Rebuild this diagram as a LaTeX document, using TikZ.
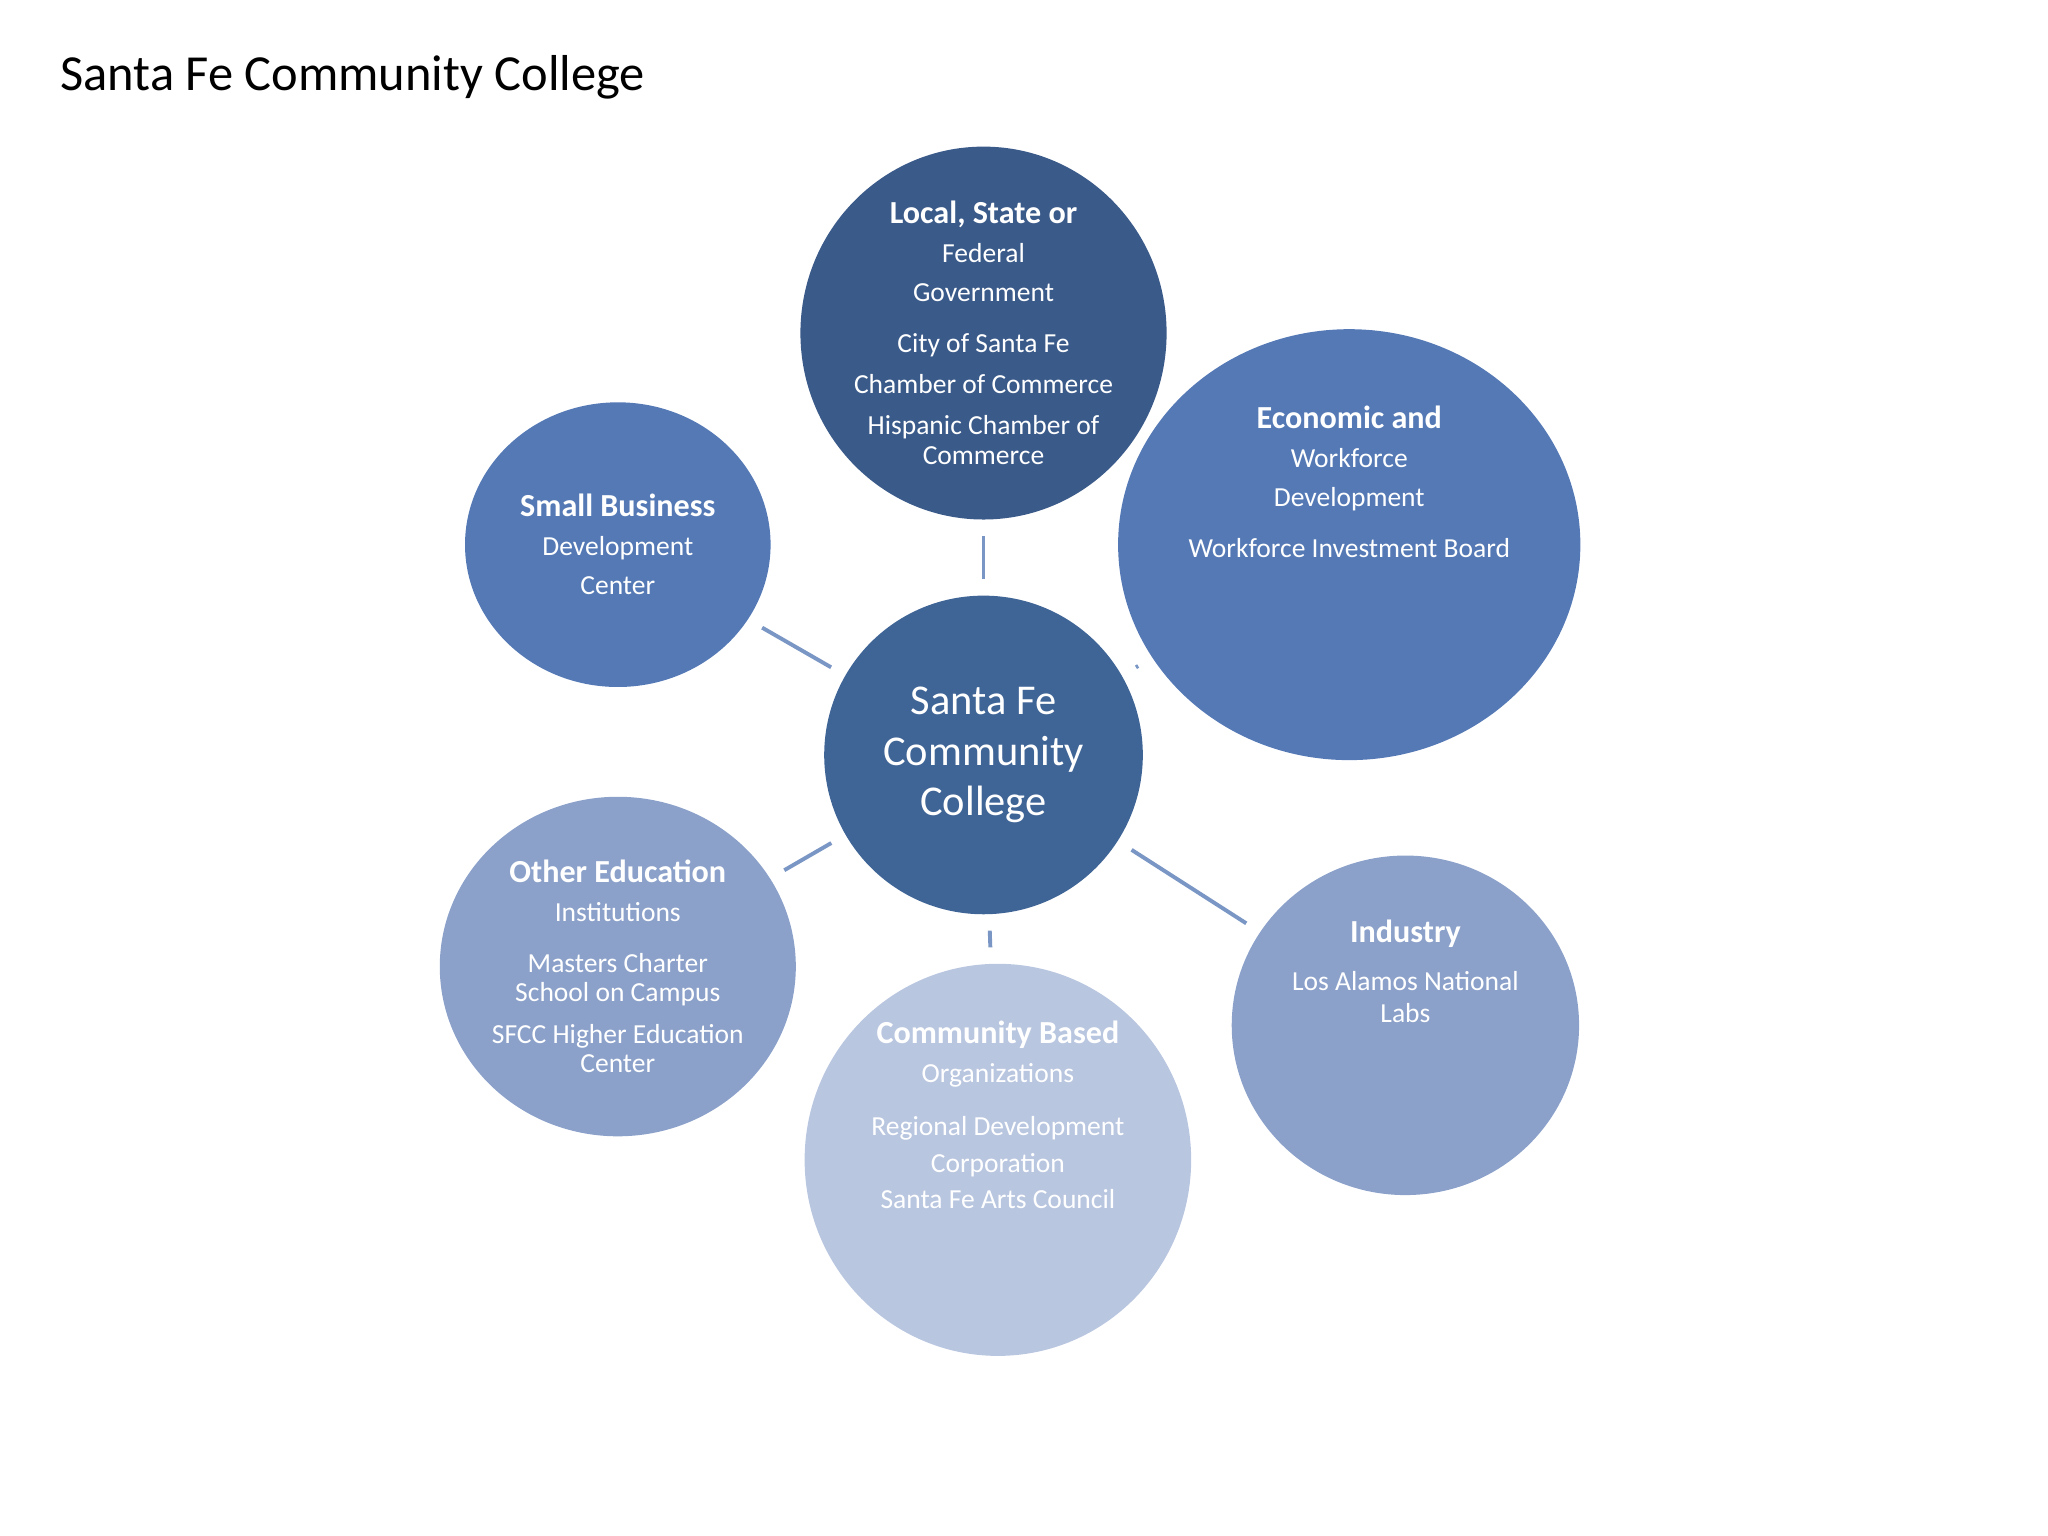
\documentclass[tikz,border=0pt]{standalone}
\usepackage{fontspec}
\setmainfont{Carlito}
\usetikzlibrary{shapes.geometric}
\definecolor{cCenter}{HTML}{3F6496}
\definecolor{cTop}{HTML}{3A5A8A}
\definecolor{cMid}{HTML}{5479B5}
\definecolor{cLight}{HTML}{8BA1CA}
\definecolor{cPale}{HTML}{B9C6E0}
\definecolor{cLine}{HTML}{7A96C4}
\tikzset{
  bub/.style={ellipse,inner sep=0pt,text=white,align=center,font=\fontsize{12}{17}\selectfont},
  link/.style={draw=cLine,line width=1.7pt,shorten <=7pt,shorten >=7pt},
}
\newcommand{\hdon}{\fontsize{14}{16.5}\selectfont\bfseries}
\newcommand{\hdoff}{\fontsize{12}{17}\selectfont\mdseries}
\begin{document}
\begin{tikzpicture}[x=0.02cm,y=-0.02cm]
\useasboundingbox (0,0) rectangle (1568,1176);
\node[anchor=west,font=\fontsize{22}{26}\selectfont] (title) at (40,59) {Santa Fe Community College};
\node[bub,fill=cCenter,minimum width=4.88cm,minimum height=4.88cm,font=\fontsize{18.5}{22}\selectfont] (c) at (753,578) {Santa Fe\\Community\\College};
\node[bub,fill=cTop,minimum width=5.32cm,minimum height=4.92cm] (t) at (753,255) {\hdon Local, State or\\Federal\\Government\\[5pt]\hdoff City of Santa Fe\\[1pt]Chamber of Commerce\\[1pt]Hispanic Chamber of\\[-4pt]Commerce};
\node[bub,fill=cMid,minimum width=7.08cm,minimum height=6.6cm] (e) at (1033,417) {\hdon Economic and\\Workforce\\Development\\[5pt]\hdoff Workforce Investment Board\\[38pt]\mbox{}};
\node[bub,fill=cMid,minimum width=4.68cm,minimum height=4.36cm] (s) at (473,417) {\hdon Small Business\\Development\\Center};
\node[bub,fill=cLight,minimum width=5.16cm,minimum height=5.2cm] (o) at (473,740) {\hdon Other Education\\Institutions\\[5pt]\hdoff Masters Charter\\[-4pt]School on Campus\\[1pt]SFCC Higher Education\\[-4pt]Center};
\node[bub,fill=cPale,minimum width=5.92cm,minimum height=5.16cm] (cb) at (764,888) {\hdon Community Based\\Organizations\\[6pt]\hdoff Regional Development\\[-1pt]Corporation\\[-1pt]Santa Fe Arts Council\\[22pt]\mbox{}};
\node[bub,fill=cLight,minimum width=5.32cm,minimum height=5.2cm] (i) at (1076,785) {\hdon Industry\\[4pt]\hdoff Los Alamos National\\[-3pt]Labs\\[30pt]\mbox{}};
\draw[link] (c) -- (t);
\draw[link] (c) -- (s);
\draw[link] (c) -- (e);
\draw[link] (c) -- (o);
\draw[link] (c) -- (cb);
\draw[link] (c) -- (i);
\end{tikzpicture}
\end{document}
